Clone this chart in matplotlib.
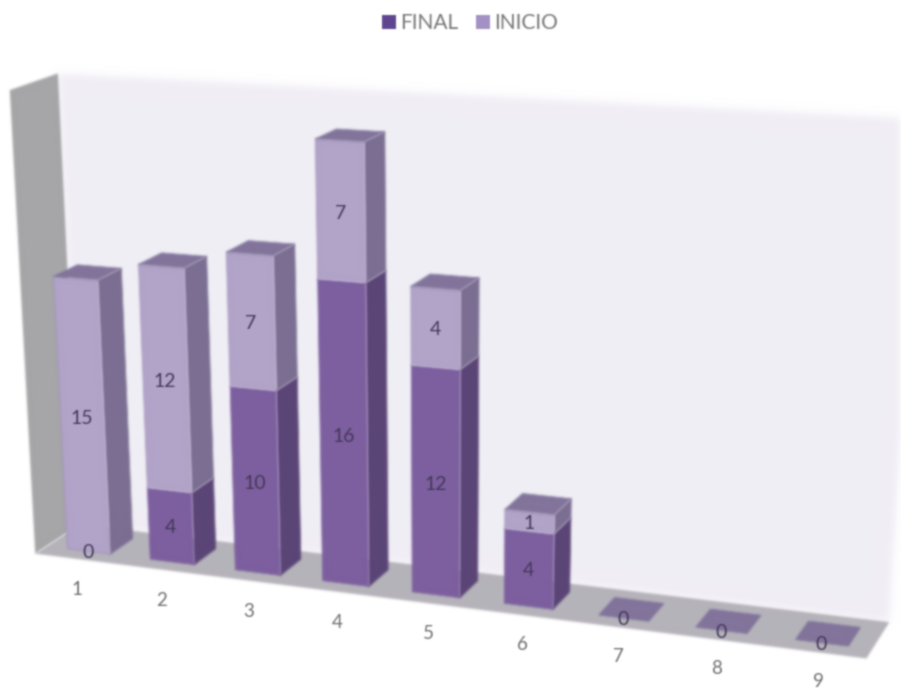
import numpy as np
import matplotlib
matplotlib.use('Agg')
import matplotlib.pyplot as plt
from matplotlib.collections import PolyCollection
from matplotlib.patches import Patch

# Data
categories = [1, 2, 3, 4, 5, 6, 7, 8, 9]
final = [0, 4, 10, 16, 12, 4, 0, 0, 0]
inicio = [15, 12, 7, 7, 4, 1, 0, 0, 0]

# Perspective camera: (x, value, depth) -> picture position
P = np.array([[80.37142, -1.036252, 24.171099, 6.683423],
              [3.349416, -18.642257, -6.936323, 540.834683],
              [-0.012349, -0.002334, 0.015486, 1.0]])


def project(x, v, d):
    h = P @ np.array([x, v, d, 1.0])
    return h[0] / h[2], h[1] / h[2]


def box_faces(x0, x1, v0, v1):
    front = [project(x0, v0, 0), project(x1, v0, 0), project(x1, v1, 0), project(x0, v1, 0)]
    side = [project(x1, v0, 0), project(x1, v0, 1), project(x1, v1, 1), project(x1, v1, 0)]
    top = [project(x0, v1, 0), project(x1, v1, 0), project(x1, v1, 1), project(x0, v1, 1)]
    return front, side, top


def smooth(a, sigma):
    r = int(3 * sigma) + 1
    k = np.exp(-0.5 * (np.arange(-r, r + 1) / sigma) ** 2)
    k /= k.sum()
    a = np.apply_along_axis(np.convolve, 0, a, k, mode='same')
    return np.apply_along_axis(np.convolve, 1, a, k, mode='same')


def blur(sigma):
    # the reference is a soft, low quality picture
    def apply(img, dpi):
        pad = int(3 * sigma) + 2
        img = np.pad(img, ((pad, pad), (pad, pad), (0, 0)))
        alpha = smooth(img[:, :, 3], sigma)
        out = np.zeros_like(img)
        for c in range(3):
            out[:, :, c] = smooth(img[:, :, c] * img[:, :, 3], sigma) / np.maximum(alpha, 1e-4)
        out[:, :, 3] = alpha
        return np.clip(out, 0, 1), -pad, -pad
    return apply


half = 0.26
x_lo, x_hi = 0.50, 9.50
d_lo, d_hi = -0.50, 1.42
v_top = 24.8

fig = plt.figure(figsize=(9.01, 6.88), dpi=100)
ax = fig.add_axes([0, 0, 1, 1])
ax.set_xlim(0, 901)
ax.set_ylim(688, 0)
ax.axis('off')

# walls and floor
back = [project(x_lo, 0, d_hi), project(x_hi, 0, d_hi), project(x_hi, v_top, d_hi), project(x_lo, v_top, d_hi)]
left = [project(x_lo, 0, d_lo), project(x_lo, 0, d_hi), project(x_lo, v_top, d_hi), project(x_lo, v_top, d_lo)]
floor = [project(x_lo, 0, d_lo), project(x_hi, 0, d_lo), project(x_hi, 0, d_hi), project(x_lo, 0, d_hi)]
wall = ax.add_collection(PolyCollection([back], facecolors='#f1eef6', edgecolors='none', zorder=1))
wall.set_agg_filter(blur(3))
ax.add_collection(PolyCollection([left], facecolors='#a6a6a8', edgecolors='none', zorder=2))
ax.add_collection(PolyCollection([floor], facecolors='#b6b3ba', edgecolors='none', zorder=2))

# bars, left to right
z = 3
for cat, f, i in zip(categories, final, inicio):
    x0, x1 = cat - half, cat + half
    if f > 0:
        front, side, top = box_faces(x0, x1, 0, f)
        ax.add_collection(PolyCollection([side], facecolors='#5b4577', edgecolors='#5b4577', linewidths=0.5, zorder=z))
        ax.add_collection(PolyCollection([front], facecolors='#7d5f9f', edgecolors='#7d5f9f', linewidths=0.5, zorder=z))
    if i > 0:
        front, side, top = box_faces(x0, x1, f, f + i)
        ax.add_collection(PolyCollection([side], facecolors='#7b6e92', edgecolors='#7b6e92', linewidths=0.5, zorder=z))
        ax.add_collection(PolyCollection([front], facecolors='#b2a4c9', edgecolors='#a090b8', linewidths=0.6, zorder=z))
    _, _, top = box_faces(x0, x1, f + i, f + i)
    ax.add_collection(PolyCollection([top], facecolors='#82749b', edgecolors='#82749b', linewidths=0.5, zorder=z))
    z += 1

# value labels
txt = dict(ha='center', va='center', fontsize=14, color='#44385a', family='Lato', zorder=40)
for cat, f, i in zip(categories, final, inicio):
    if f > 0 or i == 0:
        u, w = project(cat, f / 2 - 0.12, 0)
        ax.text(u, w, str(f), **txt)
    else:
        u, w = project(cat, -0.1, 0)
        ax.text(u, w, '0', **txt)
    if i > 0:
        u, w = project(cat, f + i / 2 - 0.12, 0)
        ax.text(u, w, str(i), **txt)

# category labels, a fixed distance under the floor
for cat in categories:
    u, w = project(cat, 0, 0)
    ax.text(u - 12 + cat, w + 39, str(cat), ha='center', va='center', fontsize=13.5, color='#6f6f6f',
            family='Lato', zorder=40)

handles = [Patch(facecolor='#5f4590', label='FINAL'), Patch(facecolor='#a391c4', label='INICIO')]
leg = fig.legend(handles=handles, loc='upper center', bbox_to_anchor=(0.5215, 1.008), ncol=2, frameon=False,
                 prop={'family': 'Lato', 'size': 15}, labelcolor='#777777', handlelength=0.7, handleheight=0.7,
                 handletextpad=0.17, columnspacing=0.85)

for c in ax.collections:
    if c.get_agg_filter() is None:
        c.set_agg_filter(blur(0.9))
for t in ax.texts + leg.get_texts() + leg.get_patches():
    t.set_agg_filter(blur(0.8))

fig.savefig('out.png', dpi=100)
